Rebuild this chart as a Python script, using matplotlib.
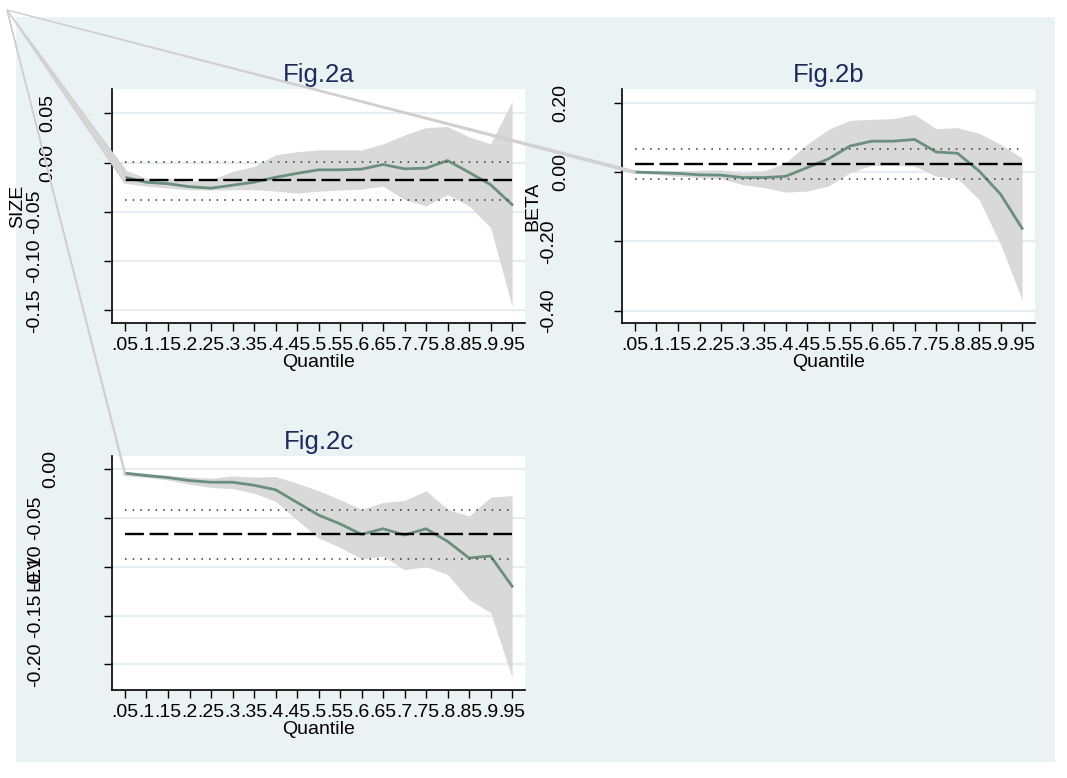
import matplotlib
matplotlib.use('Agg')
import matplotlib.pyplot as plt
from matplotlib.patches import Polygon, Rectangle

plt.rcParams['font.family'] = ['Liberation Sans', 'DejaVu Sans']

# quantiles and Stata-style tick labels
quantiles = [0.05, 0.10, 0.15, 0.20, 0.25, 0.30, 0.35, 0.40, 0.45, 0.50,
             0.55, 0.60, 0.65, 0.70, 0.75, 0.80, 0.85, 0.90, 0.95]
q_labels = ['.05', '.1', '.15', '.2', '.25', '.3', '.35', '.4', '.45', '.5',
            '.55', '.6', '.65', '.7', '.75', '.8', '.85', '.9', '.95']

# Fig.2a  SIZE
size_coef = [-0.015, -0.020, -0.0215, -0.0245, -0.026, -0.023, -0.020, -0.015, -0.011, -0.0074,
             -0.0074, -0.0067, -0.002, -0.0064, -0.0057, 0.002, -0.010, -0.0225, -0.0427]
size_hi = [-0.0074, -0.016, -0.016, -0.019, -0.0176, -0.009, -0.004, 0.0078, 0.011, 0.0128,
           0.0128, 0.0128, 0.019, 0.028, 0.0355, 0.0365, 0.026, 0.019, 0.062]
size_lo = [-0.021, -0.024, -0.026, -0.0276, -0.028, -0.0276, -0.0276, -0.029, -0.031, -0.029,
           -0.028, -0.027, -0.024, -0.0377, -0.044, -0.0326, -0.044, -0.066, -0.146]
size_ols = [-0.0175, 0.0007, -0.0377]      # coef, upper, lower
size_ticks = [-0.15, -0.10, -0.05, 0.00, 0.05]

# Fig.2b  BETA
beta_coef = [0.0, -0.002, -0.004, -0.008, -0.009, -0.016, -0.016, -0.0125, 0.0125, 0.038,
             0.075, 0.089, 0.089, 0.094, 0.058, 0.054, 0.003, -0.064, -0.1625]
beta_hi = [0.003, 0.003, 0.003, 0.005, 0.006, -0.002, 0.003, 0.027, 0.080, 0.123,
           0.149, 0.152, 0.154, 0.166, 0.125, 0.128, 0.112, 0.080, 0.040]
beta_lo = [-0.004, -0.007, -0.012, -0.016, -0.019, -0.036, -0.045, -0.058, -0.055, -0.040,
           -0.002, 0.019, 0.019, 0.017, -0.012, -0.019, -0.079, -0.209, -0.369]
beta_ols = [0.024, 0.067, -0.019]
beta_ticks = [-0.40, -0.20, 0.00, 0.20]

# Fig.2c  LEV
lev_coef = [-0.004, -0.0065, -0.0085, -0.0116, -0.0133, -0.0133, -0.0164, -0.021, -0.034, -0.047,
            -0.056, -0.0668, -0.061, -0.0675, -0.061, -0.074, -0.091, -0.089, -0.120]
lev_hi = [-0.0024, -0.004, -0.0065, -0.008, -0.0092, -0.0068, -0.008, -0.0075, -0.0143, -0.022,
          -0.031, -0.041, -0.034, -0.032, -0.022, -0.041, -0.048, -0.0286, -0.027]
lev_lo = [-0.0065, -0.0085, -0.011, -0.0153, -0.0187, -0.0198, -0.0245, -0.033, -0.052, -0.0705,
          -0.080, -0.092, -0.089, -0.103, -0.100, -0.108, -0.1336, -0.147, -0.2136]
lev_ols = [-0.0668, -0.042, -0.0923]
lev_ticks = [-0.20, -0.15, -0.10, -0.05, 0.00]

W, H = 1067, 778
BG = '#EAF2F3'
NAVY = '#1C2B5C'
GREEN = '#6B8E7F'
FILL = '#D9D9D9'
FS = 14

fig = plt.figure(figsize=(W / 100, H / 100), dpi=100, facecolor='white')
fig.patches.append(Rectangle((16 / W, 1 - 762 / H), (1055 - 16) / W, (762 - 17) / H,
                             transform=fig.transFigure, facecolor=BG, edgecolor='none', zorder=-1))


def make_panel(box, title, ylab, coef, hi, lo, ols, yticks, ylim, ylab_x, pads):
    x0, y0, x1, y1 = box
    ax = fig.add_axes([x0 / W, 1 - y1 / H, (x1 - x0) / W, (y1 - y0) / H])
    ax.set_facecolor('white')
    ax.fill_between(quantiles, lo, hi, color=FILL, lw=0, zorder=1)
    ax.plot(quantiles, coef, color=GREEN, lw=2.0, zorder=3)
    ax.hlines(ols[0], quantiles[0], quantiles[-1], colors='black', lw=1.7,
              linestyles=(0, (8, 2.4)), zorder=4)
    ax.hlines(ols[1:], quantiles[0], quantiles[-1], colors='#333333', lw=1.1,
              linestyles=(0, (1, 4.0)), zorder=4)
    ax.set_xlim(0.0198, 0.980)
    ax.set_ylim(*ylim)
    ax.set_xticks(quantiles)
    ax.set_xticklabels(q_labels)
    ax.set_yticks(yticks)
    ax.set_yticklabels(['%.2f' % v for v in yticks], rotation=90, va='center')
    for s in ['top', 'right']:
        ax.spines[s].set_visible(False)
    for s in ['left', 'bottom']:
        ax.spines[s].set_linewidth(1.2)
    ax.grid(axis='y', color='#E6EEF1', lw=1.6, zorder=0)
    ax.set_axisbelow(True)
    ax.tick_params(axis='both', length=5.8, width=1.0, labelsize=FS, color='black')
    ax.tick_params(axis='x', pad=4)
    for tick, v in zip(ax.yaxis.get_major_ticks(), yticks):
        tick.set_pad(pads[0] if v >= 0 else pads[1])
    ax.set_title(title, fontsize=18.5, color=NAVY, pad=5)
    ax.set_xlabel('Quantile', fontsize=FS, labelpad=0)
    ax.set_ylabel(ylab, fontsize=FS)
    ax.yaxis.set_label_coords(ylab_x, 0.5)
    return ax


ax_a = make_panel((112, 89, 525, 323), 'Fig.2a', 'SIZE', size_coef, size_hi, size_lo,
                  size_ols, size_ticks, (-0.1628, 0.0746), -0.207, (34, 44))
ax_b = make_panel((622, 89, 1035, 323), 'Fig.2b', 'BETA', beta_coef, beta_hi, beta_lo,
                  beta_ols, beta_ticks, (-0.4355, 0.2395), -0.196, (32, 41))
ax_c = make_panel((112, 456, 525, 690), 'Fig.2c', 'LEV', lev_coef, lev_hi, lev_lo,
                  lev_ols, lev_ticks, (-0.2264, 0.0136), -0.165, (32, 43))

# stray polygon edges running from the top-left corner to each band's first point
corner = fig.transFigure.inverted().transform((7, H - 10))
for ax, hi, lo in [(ax_a, size_hi, size_lo), (ax_b, beta_hi, beta_lo), (ax_c, lev_hi, lev_lo)]:
    p_hi = fig.transFigure.inverted().transform(ax.transData.transform((quantiles[0], hi[0])))
    p_lo = fig.transFigure.inverted().transform(ax.transData.transform((quantiles[0], lo[0])))
    fig.patches.append(Polygon([corner, p_hi, p_lo], closed=True, transform=fig.transFigure,
                               facecolor='#D6D6D6', edgecolor='#CFCFCF', lw=1.0, zorder=5))

fig.savefig('out.png', dpi=100, facecolor='white')
